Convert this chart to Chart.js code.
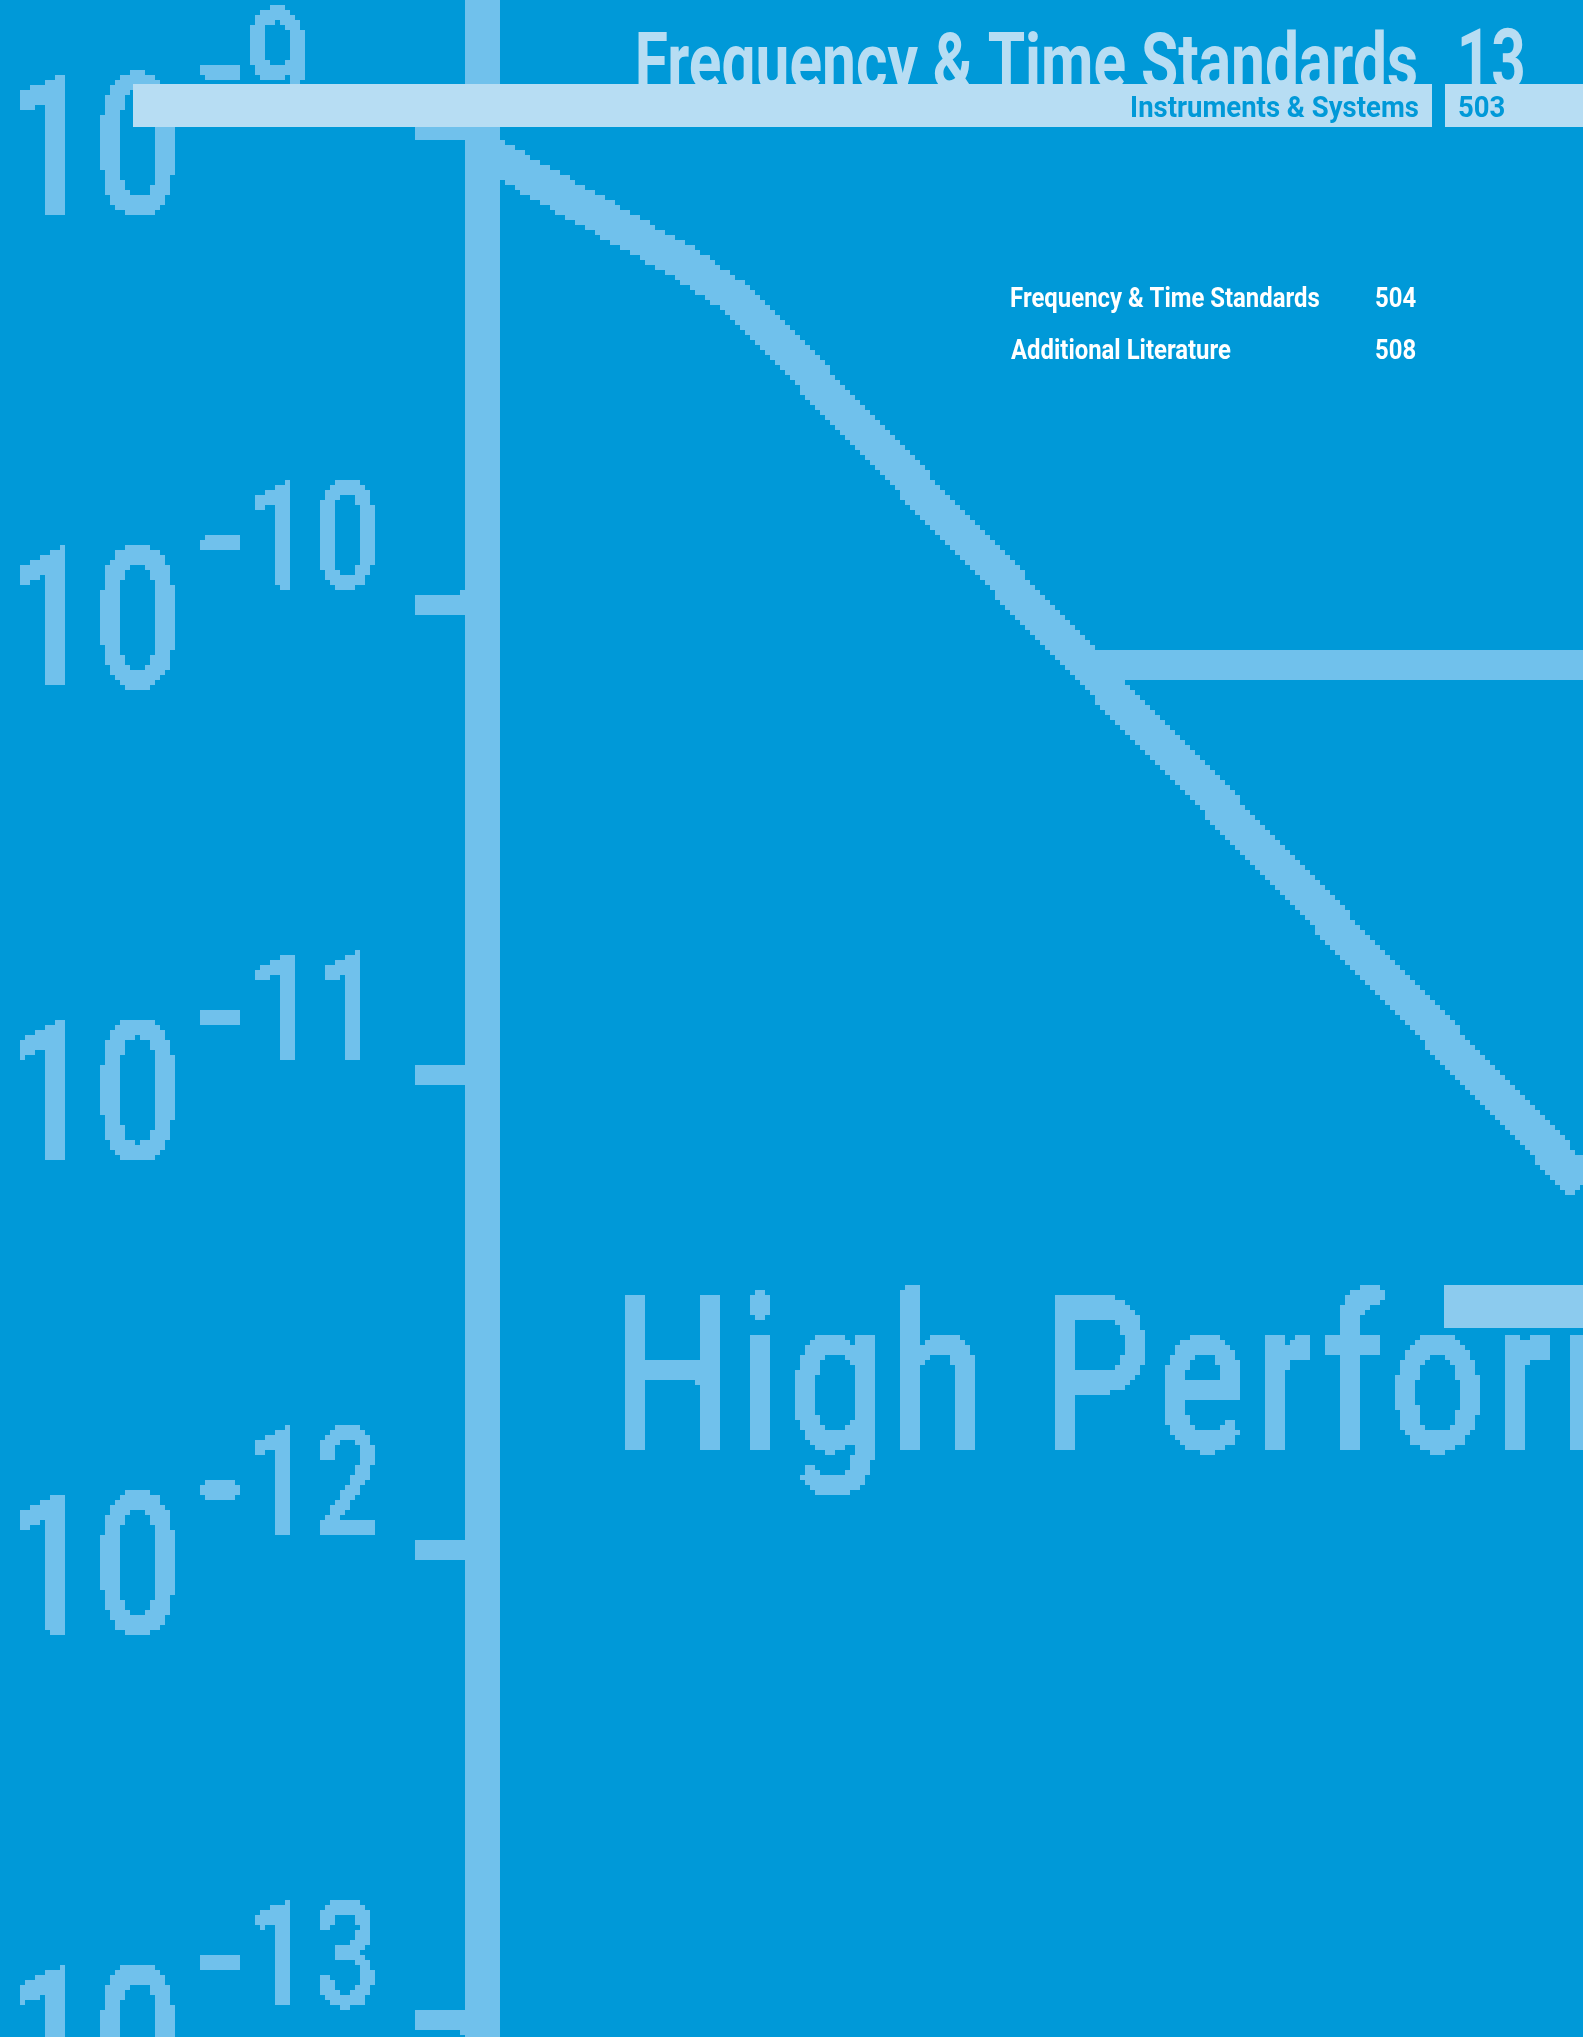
<!DOCTYPE html>
<html>
<head>
<meta charset="utf-8">
<title>Frequency &amp; Time Standards</title>
<script src="https://cdn.jsdelivr.net/npm/chart.js@4.4.1/dist/chart.umd.min.js"></script>
<style>
  html, body { margin: 0; padding: 0; background: #0099d8; overflow: hidden; }
  #page { position: relative; width: 1583px; height: 2037px; }
</style>
</head>
<body>
<div id="page"><canvas id="stabilityChart"></canvas></div>
<script>
// Stability curve: averaging time tau (s) vs. sigma
const tauValues = [0.01, 0.08, 0.135, 0.28, 5.56, 1000];
const sigmaValues = [9.1e-10, 5.3e-10, 4.5e-10, 3.2e-10, 7.4e-11, 5.9e-12];
// Flat floor line
const floorTau = [5.56, 1000];
const floorSigma = [7.4e-11, 7.4e-11];
// Decade ticks: 10^-9 ... 10^-13
const decadeExponents = [-9, -10, -11, -12, -13];

// Page texts
const headerTitle = 'Frequency & Time Standards';
const chapterNo = '13';
const headerSub = 'Instruments & Systems';
const pageNo = '503';
const tocItems = ['Frequency & Time Standards', 'Additional Literature'];
const tocPages = ['504', '508'];
const bannerText = ['High', 'Performance'];

const blue = '#0099d8';
const light = '#70c1ec';
const lightRgb = [112, 193, 236];
const pale = '#b7ddf3';

// measure ink box of a text
function ink(ctx, text, font) {
  ctx.font = font;
  const m = ctx.measureText(text);
  return {
    left: m.actualBoundingBoxLeft,
    w: m.actualBoundingBoxLeft + m.actualBoundingBoxRight,
    asc: m.actualBoundingBoxAscent,
    h: m.actualBoundingBoxAscent + m.actualBoundingBoxDescent
  };
}

// draw text with ink starting at left, squeezed by sx
function drawText(ctx, text, font, left, baseline, sx, color) {
  const m = ink(ctx, text, font);
  ctx.save();
  ctx.translate(left, baseline);
  ctx.scale(sx, 1);
  ctx.fillStyle = color;
  ctx.fillText(text, m.left, 0);
  ctx.restore();
}

function fitSx(ctx, text, font, width) {
  return width / ink(ctx, text, font).w;
}

// draw text so its ink fills a box
function boxText(ctx, text, font, left, top, sx, sy, color) {
  const m = ink(ctx, text, font);
  ctx.save();
  ctx.translate(left, top);
  ctx.scale(sx, sy);
  ctx.fillStyle = color;
  ctx.fillText(text, m.left, m.asc);
  ctx.restore();
}

// coarse scan look: snap the light artwork to 5px blocks
function pixelate(chart, block) {
  const c = chart.canvas;
  const w = c.width, h = c.height;
  const img = chart.ctx.getImageData(0, 0, w, h);
  const d = img.data;
  for (let by = 0; by < h; by += block) {
    const ye = Math.min(by + block, h);
    for (let bx = 0; bx < w; bx += block) {
      const xe = Math.min(bx + block, w);
      let sum = 0, n = 0;
      for (let y = by; y < ye; y++) {
        for (let x = bx; x < xe; x++) { sum += d[(y * w + x) * 4 + 3]; n++; }
      }
      const on = sum / n > 110;
      for (let y = by; y < ye; y++) {
        for (let x = bx; x < xe; x++) {
          const i = (y * w + x) * 4;
          d[i] = lightRgb[0]; d[i + 1] = lightRgb[1]; d[i + 2] = lightRgb[2];
          d[i + 3] = on ? 255 : 0;
        }
      }
    }
  }
  chart.ctx.putImageData(img, 0, 0);
}

const pagePlugin = {
  id: 'pagePlugin',
  afterDraw(chart) {
    const ctx = chart.ctx;
    const yScale = chart.scales.y;
    ctx.save();
    ctx.textBaseline = 'alphabetic';
    ctx.textAlign = 'left';

    // decade labels 10^-n
    const lf = '500 100px Roboto';
    const base = ink(ctx, '10', lf);
    const sxMain = 154 / base.w;
    const syMain = 146 / base.h;
    const aspect = sxMain / syMain;
    decadeExponents.forEach(e => {
      const t = yScale.getPixelForValue(Math.pow(10, e));
      boxText(ctx, '10', lf, 20, t - 60, sxMain, syMain, light);
      const minus = ink(ctx, '-', lf);
      boxText(ctx, '-', lf, 201, t - 68, 37 / minus.w, 17 / minus.h, light);
      const sup = String(-e);
      const s = ink(ctx, sup, lf);
      const sy = 111 / s.h;
      boxText(ctx, sup, lf, sup.length === 1 ? 249 : 257, t - 125, aspect * sy, sy, light);
    });

    // big banner text: letter width from the H, tracking from "High"
    const bf = '500 217px Roboto';
    const bsx = 96 / ink(ctx, 'H', bf).w;
    const w0 = ink(ctx, bannerText[0], bf).w;
    const track = Math.max(0, (352 / bsx - w0) / 3);
    ctx.letterSpacing = track.toFixed(1) + 'px';
    drawText(ctx, bannerText[0], bf, 623, 1451, bsx, light);
    drawText(ctx, bannerText[1], bf, 1055, 1451, bsx, light);
    ctx.letterSpacing = '0px';

    pixelate(chart, 5);

    ctx.fillStyle = '#8ccbee';
    ctx.fillRect(1444, 1285, 139, 43);

    // header title (partly hidden under the bar)
    const tf = 'bold 77px Roboto';
    drawText(ctx, headerTitle, tf, 638, 88, fitSx(ctx, headerTitle, tf, 778), pale);
    const cf = 'bold 83px Roboto';
    drawText(ctx, chapterNo, cf, 1461, 88, fitSx(ctx, chapterNo, cf, 62), pale);

    // header bar
    ctx.fillStyle = pale;
    ctx.fillRect(133, 84, 1299, 43);
    ctx.fillRect(1445, 84, 138, 43);
    const sf = 'bold 29px Roboto';
    const ssx = fitSx(ctx, headerSub, sf, 286);
    drawText(ctx, headerSub, sf, 1132, 117, ssx, blue);
    drawText(ctx, pageNo, sf, 1459, 117, ssx, blue);

    // contents
    const cf2 = 'bold 27px Roboto';
    const csx = fitSx(ctx, tocItems[0], cf2, 308);
    tocItems.forEach((item, i) => {
      const y = 307 + i * 52;
      drawText(ctx, item, cf2, 1011, y, csx, '#ffffff');
      drawText(ctx, tocPages[i], cf2, 1376, y, csx, '#ffffff');
    });
    ctx.restore();
  }
};

const ctx = document.getElementById('stabilityChart').getContext('2d', { willReadFrequently: true });
new Chart(ctx, {
  type: 'line',
  data: {
    datasets: [{
      data: tauValues.map((t, i) => ({ x: t, y: sigmaValues[i] })),
      borderColor: light,
      borderWidth: 35,
      pointRadius: 0,
      tension: 0,
      borderJoinStyle: 'round',
      clip: { left: 0, top: false, right: 0, bottom: 0 }
    }, {
      data: floorTau.map((t, i) => ({ x: t, y: floorSigma[i] })),
      borderColor: light,
      borderWidth: 26,
      pointRadius: 0,
      clip: { left: 0, top: false, right: 0, bottom: 0 }
    }]
  },
  options: {
    responsive: true,
    maintainAspectRatio: false,
    animation: false,
    events: [],
    layout: { padding: 0 },
    plugins: { legend: { display: false }, tooltip: { enabled: false } },
    scales: {
      x: { type: 'logarithmic', min: 0.01, max: 1000, display: false },
      y: {
        type: 'logarithmic',
        min: 9.297e-14,
        max: 1.883e-9,
        afterFit: scale => { scale.width = 481; },
        afterBuildTicks: scale => {
          scale.ticks = decadeExponents.map(e => ({ value: Math.pow(10, e) }));
        },
        ticks: { display: false },
        grid: { drawOnChartArea: false, drawTicks: true, tickLength: 66, lineWidth: 20, color: light },
        border: { display: true, width: 34, color: light }
      }
    }
  },
  plugins: [pagePlugin]
});
</script>
</body>
</html>
